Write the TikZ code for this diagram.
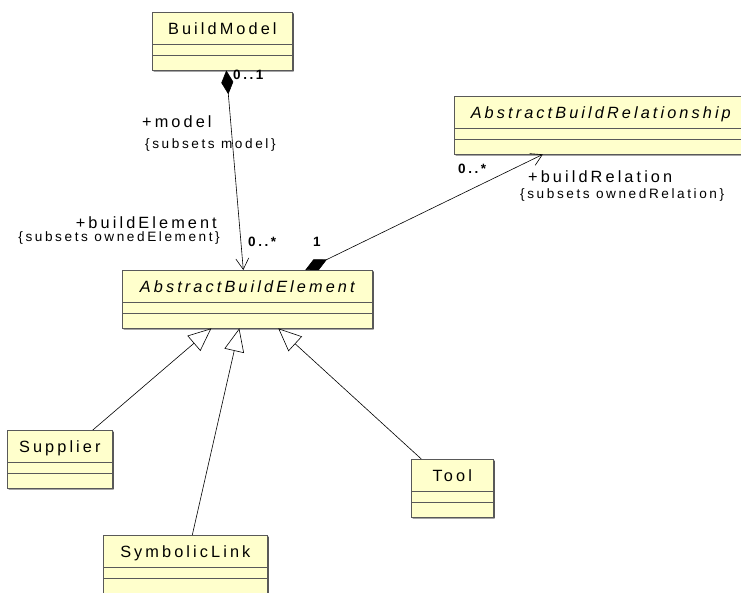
\documentclass[tikz,border=0pt]{standalone}
\usepackage{fontspec}
\newfontfamily\umlfont{Liberation Sans}[LetterSpace=19]
\usetikzlibrary{arrows.meta,shapes.multipart,shadows}
\definecolor{umlfill}{RGB}{255,255,204}
\newcommand{\namestrut}{\rule[-9pt]{0pt}{31pt}}
\newcommand{\compartments}{\nodepart{two}\rule{0pt}{11pt}\nodepart{three}\rule{0pt}{14pt}}

\begin{document}
\begin{tikzpicture}[x=1pt,y=-1pt]
\tikzset{
  umlclass/.style={rectangle split,rectangle split parts=3,anchor=north west,draw=black!65,line width=0.6pt,fill=umlfill,inner xsep=0pt,inner ysep=0pt,font=\umlfont\fontsize{16.3}{19}\selectfont,drop shadow={shadow xshift=1.2pt,shadow yshift=-1.2pt,fill=black,opacity=1}},
  rolename/.style={inner sep=0pt,font=\umlfont\fontsize{16.3}{19}\selectfont},
  subsetsnote/.style={inner sep=0pt,font=\umlfont\fontsize{13.6}{16}\selectfont},
  multiplicity/.style={inner sep=0pt,font=\umlfont\bfseries\fontsize{13.5}{16}\selectfont},
  umledge/.style={draw=black,line width=0.6pt},
  composition/.style={umledge,{Diamond[length=24pt,width=12pt]}-{Straight Barb[length=11pt,width=13pt]}},
  generalization/.style={umledge,-{Triangle[open,length=23pt,width=20pt,fill=white]}}
}
\useasboundingbox (0,0) rectangle (741,593);
\node[umlclass,minimum width=140pt] (n_bm) at (152,12) {\namestrut BuildModel\compartments};
\node[umlclass,minimum width=250pt] (n_abe) at (122,270) {\namestrut\itshape AbstractBuildElement\compartments};
\node[umlclass,minimum width=293pt] (n_abr) at (454,96) {\namestrut\itshape AbstractBuildRelationship\compartments};
\node[umlclass,minimum width=105pt] (n_sup) at (7,430) {\namestrut Supplier\compartments};
\node[umlclass,minimum width=164pt] (n_sym) at (103,535) {\namestrut SymbolicLink\compartments};
\node[umlclass,minimum width=82pt] (n_tool) at (411,459) {\namestrut Tool\compartments};
\draw[composition] ([xshift=4pt]n_bm.south) -- ([xshift=-4pt]n_abe.north);
\draw[composition] ([xshift=58pt]n_abe.north) -- ([xshift=-58pt]n_abr.south);
\draw[generalization] ([xshift=33pt]n_sup.north) -- ([xshift=-36pt]n_abe.south);
\draw[generalization] ([xshift=7pt]n_sym.north) -- ([xshift=-8pt]n_abe.south);
\draw[generalization] ([xshift=-31pt]n_tool.north) -- ([xshift=31pt]n_abe.south);
\node[multiplicity,anchor=west] (m_bm) at (233,75) {0..1};
\node[rolename,anchor=west] (r_model) at (142,122) {+model};
\node[subsetsnote,anchor=west] (s_model) at (145,145) {\{subsets model\}};
\node[rolename,anchor=east] (r_elem) at (217,223) {+buildElement};
\node[subsetsnote,anchor=east] (s_elem) at (220,238) {\{subsets ownedElement\}};
\node[multiplicity,anchor=west] (m_elem) at (248,242) {0..*};
\node[multiplicity,anchor=west] (m_one) at (313,242) {1};
\node[multiplicity,anchor=west] (m_rel) at (458,169) {0..*};
\node[rolename,anchor=west] (r_rel) at (528,177) {+buildRelation};
\node[subsetsnote,anchor=west] (s_rel) at (520,195) {\{subsets ownedRelation\}};
\end{tikzpicture}
\end{document}
